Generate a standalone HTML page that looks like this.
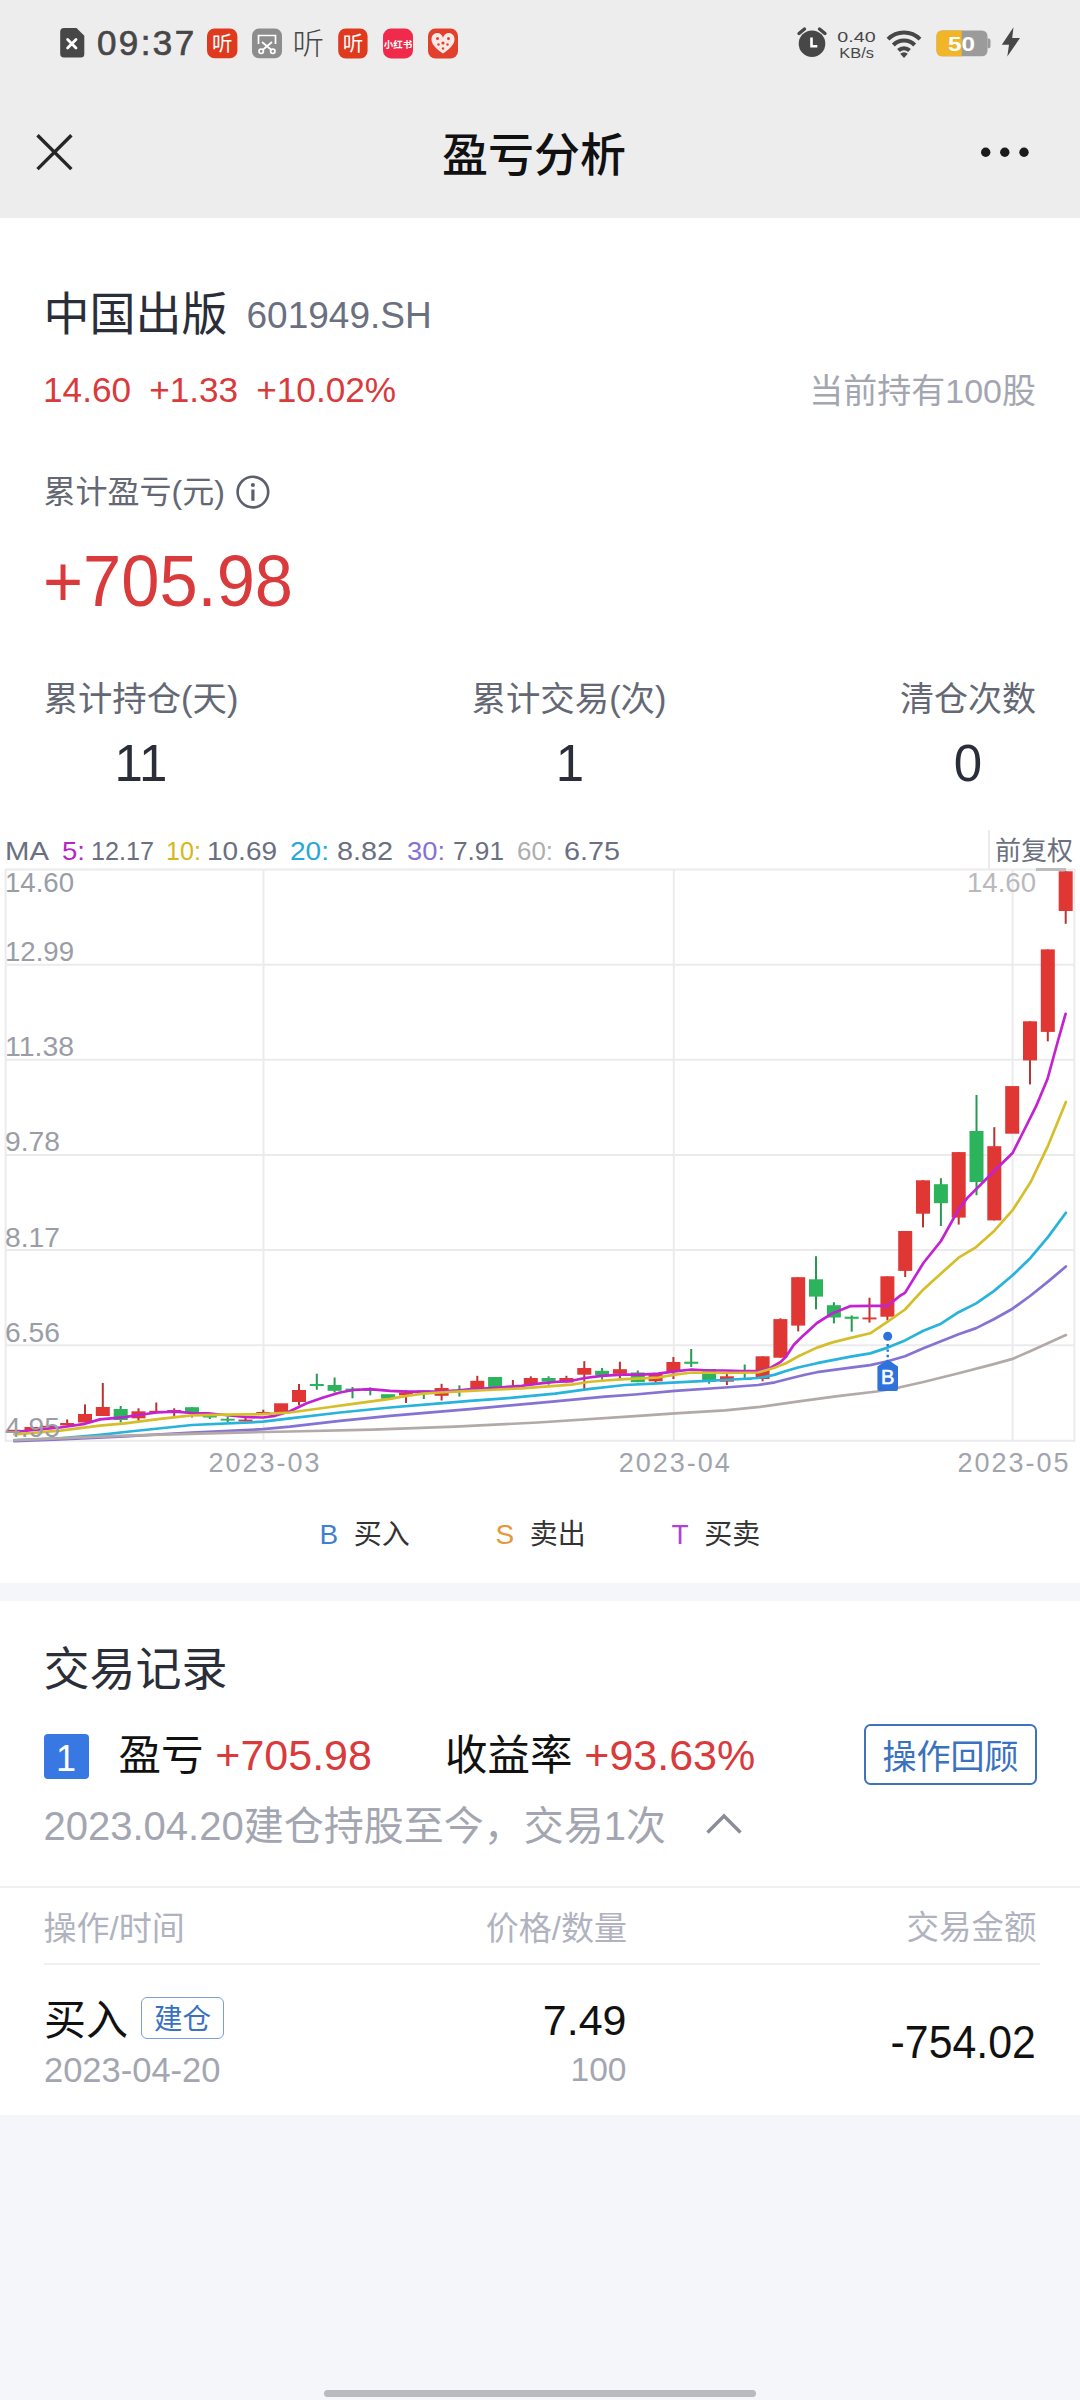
<!DOCTYPE html>
<html lang="zh-CN">
<head>
<meta charset="utf-8">
<title>盈亏分析</title>
<style>
html,body{margin:0;padding:0;}
body{width:1080px;height:2400px;position:relative;overflow:hidden;background:#f5f6fa;
  font-family:"Liberation Sans","Noto Sans CJK SC",sans-serif;color:#2a2e38;}
.abs{position:absolute;white-space:nowrap;line-height:1;}
.r{text-align:right;}
.c{text-align:center;}
.red{color:#d93a3b;}
#hdr{position:absolute;left:0;top:0;width:1080px;height:217.5px;background:#ededed;}
#card1{position:absolute;left:0;top:217.5px;width:1080px;height:1365px;background:#fff;}
#card2{position:absolute;left:0;top:1601.4px;width:1080px;height:514px;background:#fff;}
.hline{position:absolute;height:2px;background:#eff0f3;}
</style>
</head>
<body>
<div id="hdr"></div>
<div id="card1"></div>
<div id="card2"></div>

<!-- status bar -->
<svg class="abs" id="hdricons" style="left:0;top:0;" width="1080" height="216" viewBox="0 0 1080 216" font-family="Liberation Sans, Noto Sans CJK SC, sans-serif">
<!-- sim -->
<path d="M64 28H76.5L84.3 35.8V54a3.5 3.5 0 0 1 -3.5 3.5H64a3.8 3.8 0 0 1 -3.8 -3.8V31.8A3.8 3.8 0 0 1 64 28Z" fill="#474747"/>
<path d="M67.6 39.6L76 48M76 39.6L67.6 48" stroke="#fff" stroke-width="2.8" stroke-linecap="round"/>
<!-- app icons -->
<rect x="207" y="28.6" width="30.4" height="29.6" rx="7.5" fill="#df3a1e"/>
<text x="222.2" y="50.600" font-size="20.500" fill="#fff" text-anchor="middle">听</text>
<rect x="252" y="28.6" width="30" height="29.6" rx="7" fill="#8d8d8d"/>
<g stroke="#fff" stroke-width="1.7" fill="none"><path d="M258.5 44V35.5H275.5V44"/><path d="M262 42L271.5 50M272 42L262.5 50"/><circle cx="261.2" cy="51.3" r="2.2"/><circle cx="272.8" cy="51.3" r="2.2"/></g>
<text x="292.500" y="54.300" font-size="29.500" fill="#474747" font-weight="300" textLength="31.500" lengthAdjust="spacingAndGlyphs">听</text>
<rect x="338.2" y="28.6" width="29.4" height="29.8" rx="7.5" fill="#df3a1e"/>
<text x="353" y="50.600" font-size="20.500" fill="#fff" text-anchor="middle">听</text>
<rect x="383" y="28.6" width="30" height="29.8" rx="8" fill="#f02a4a"/>
<text x="398" y="47.6" font-size="9.5" font-weight="bold" fill="#fff" text-anchor="middle">小红书</text>
<rect x="428" y="28.6" width="30" height="29.8" rx="7.5" fill="#e2402c"/>
<path d="M443 53.5C436 48.5 431.5 44.5 431.5 39.5a5.7 5.7 0 0 1 11.5 -1.5a5.7 5.7 0 0 1 11.5 1.5C454.500 44.500 450 48.500 443 53.500Z" fill="#fbe9e6"/>
<g fill="#e2402c"><circle cx="437.5" cy="38.500" r="1.5"/><circle cx="448.5" cy="38.500" r="1.5"/><circle cx="443" cy="43" r="1.6"/><circle cx="438.500" cy="44.500" r="1.2"/><circle cx="447.500" cy="44.500" r="1.2"/><circle cx="443" cy="48.500" r="1.2"/></g>
<!-- alarm -->
<circle cx="812" cy="43.700" r="13.300" fill="#474747"/>
<path d="M799 33.500L804.500 29M825 33.500L819.500 29" stroke="#474747" stroke-width="3.400" stroke-linecap="round"/>
<path d="M811.500 37.500V46.200H817.300" stroke="#fff" stroke-width="2.600" fill="none"/>
<!-- wifi -->
<g fill="none" stroke="#474747" stroke-width="4" stroke-linecap="butt">
<path d="M888 39.200A22.500 22.500 0 0 1 920 39.200"/>
<path d="M893.300 45A15 15 0 0 1 914.700 45"/>
<path d="M898.500 50.500A7.700 7.700 0 0 1 909.500 50.500"/>
</g>
<path d="M904 58L900.200 53.800A5.300 5.300 0 0 1 907.800 53.800Z" fill="#474747"/>
<!-- battery -->
<rect x="936.500" y="30.500" width="51" height="25.800" rx="5.500" fill="#9b9b9b"/>
<path d="M942 30.500H961.700V56.300H942a5.500 5.500 0 0 1 -5.500 -5.500V36a5.500 5.500 0 0 1 5.500 -5.500Z" fill="#f1b527"/>
<path d="M987.500 38.500h1.200a1.800 1.800 0 0 1 1.800 1.800v6.200a1.800 1.800 0 0 1 -1.800 1.800h-1.200Z" fill="#9b9b9b"/>
<text x="948" y="50.500" font-size="19.500" font-weight="bold" fill="#fff" textLength="27" lengthAdjust="spacingAndGlyphs">50</text>
<text x="837.300" y="41.900" font-size="15" fill="#474747" textLength="38.300" lengthAdjust="spacingAndGlyphs">0.40</text>
<text x="839.300" y="57.700" font-size="15.500" fill="#474747" textLength="34.600" lengthAdjust="spacingAndGlyphs">KB/s</text>
<!-- bolt -->
<path d="M1013.500 27.300L1001.800 44.800H1009L1007.300 56.400L1020 38H1012.200Z" fill="#474747"/>
<!-- nav -->
<path d="M37.500 135.300L71.400 169.100M71.400 135.300L37.500 169.100" stroke="#262626" stroke-width="3.400" fill="none"/>
<circle cx="985.700" cy="152.300" r="4.700" fill="#1b1b1b"/><circle cx="1004.800" cy="152.300" r="4.700" fill="#1b1b1b"/><circle cx="1024" cy="152.300" r="4.700" fill="#1b1b1b"/>
</svg>
<div class="abs" id="time" style="left:97px;top:25px;font-size:35px;color:#474747;letter-spacing:2.4px;-webkit-text-stroke:0.7px #474747;">09:37</div>

<!-- nav -->
<div class="abs c" id="title" style="left:334px;width:400px;top:132px;font-size:46px;font-weight:500;color:#111;">盈亏分析</div>

<!-- stock -->
<div class="abs" id="sname" style="left:43.5px;top:290.5px;font-size:46px;color:#2a2e38;">中国出版</div>
<div class="abs" id="scode" style="left:246.5px;top:297px;font-size:37px;color:#6a7080;">601949.SH</div>
<div class="abs red" id="sprice" style="left:43px;top:372px;font-size:35.2px;word-spacing:8.3px;">14.60 +1.33 +10.02%</div>
<div class="abs r" id="shold" style="right:44px;top:374px;font-size:34px;color:#a3a6b0;">当前持有100股</div>

<div class="abs" id="plabel" style="left:43.5px;top:476px;font-size:32px;color:#646874;">累计盈亏(元)</div>
<div class="abs red" id="pval" style="left:43px;top:544px;font-size:73px;transform:scaleX(0.94);transform-origin:left center;">+705.98</div>

<div class="abs" id="l1" style="left:43.5px;top:682px;font-size:34.4px;color:#646874;">累计持仓(天)</div>
<div class="abs c" id="l2" style="left:389px;width:360px;top:682px;font-size:34.4px;color:#646874;">累计交易(次)</div>
<div class="abs r" id="l3" style="right:44px;top:682px;font-size:34px;color:#646874;">清仓次数</div>
<div class="abs c" id="v1" style="left:42px;width:198px;top:738px;font-size:51px;">11</div>
<div class="abs c" id="v2" style="left:390px;width:360px;top:738px;font-size:51px;">1</div>
<div class="abs c" id="v3" style="left:900px;width:136px;top:738px;font-size:51px;">0</div>

<!-- chart placeholder -->
<svg id="chart" class="abs" style="left:0;top:820px;" width="1080" height="680" viewBox="0 820 1080 680" font-family="Liberation Sans, Noto Sans CJK SC, sans-serif">
<g stroke="#ebebee" stroke-width="2" fill="none">
<path d="M5 869.6H1075"/>
<path d="M5 964.7H1075"/>
<path d="M5 1059.8H1075"/>
<path d="M5 1154.9H1075"/>
<path d="M5 1250.1H1075"/>
<path d="M5 1345.3H1075"/>
<path d="M5 1440.7H1075"/>
<path d="M263.5 869V1441"/>
<path d="M673.8 869V1441"/>
<path d="M1012.6 869V1441"/>
<path d="M5.6 869V1441M1074.4 869V1441M989 830V870"/>
</g>
<rect x="1036" y="868" width="30" height="3" fill="#bcbcbc"/>
<g font-size="26.5">
<text x="5" y="860" textLength="44" lengthAdjust="spacingAndGlyphs" fill="#6a7080">MA</text>
<text x="62" y="860" textLength="23" lengthAdjust="spacingAndGlyphs" fill="#b824c8">5:</text><text x="91" y="860" textLength="63" lengthAdjust="spacingAndGlyphs" fill="#6a7080">12.17</text>
<text x="166" y="860" textLength="35" lengthAdjust="spacingAndGlyphs" fill="#d4b820">10:</text><text x="207" y="860" textLength="70" lengthAdjust="spacingAndGlyphs" fill="#6a7080">10.69</text>
<text x="290" y="860" textLength="39" lengthAdjust="spacingAndGlyphs" fill="#27a8d8">20:</text><text x="337" y="860" textLength="56" lengthAdjust="spacingAndGlyphs" fill="#6a7080">8.82</text>
<text x="407" y="860" textLength="38" lengthAdjust="spacingAndGlyphs" fill="#8672d2">30:</text><text x="453" y="860" textLength="51" lengthAdjust="spacingAndGlyphs" fill="#6a7080">7.91</text>
<text x="517" y="860" textLength="36" lengthAdjust="spacingAndGlyphs" fill="#aeaeae">60:</text><text x="564" y="860" textLength="56" lengthAdjust="spacingAndGlyphs" fill="#6a7080">6.75</text>
<text x="995" y="860" fill="#6a7080" font-size="26">前复权</text>
</g>
<rect x="6.7" y="1429.8" width="14" height="1.8" fill="#e03634"/>
<rect x="24.5" y="1427" width="14" height="3.0" fill="#e03634"/>
<rect x="42.4" y="1425.8" width="14" height="1.8" fill="#e03634"/>
<rect x="66.2" y="1419.4" width="2" height="6.0" fill="#b93331"/>
<rect x="60.2" y="1423" width="14" height="2.4" fill="#e03634"/>
<rect x="84.0" y="1404.4" width="2" height="18.1" fill="#b93331"/>
<rect x="78.0" y="1414" width="14" height="8.5" fill="#e03634"/>
<rect x="101.8" y="1383" width="2" height="33.0" fill="#b93331"/>
<rect x="95.8" y="1407" width="14" height="9.0" fill="#e03634"/>
<rect x="119.7" y="1406" width="2" height="16.5" fill="#279a50"/>
<rect x="113.7" y="1409" width="14" height="11.0" fill="#2bb45c"/>
<rect x="137.5" y="1408.3" width="2" height="12.5" fill="#b93331"/>
<rect x="131.5" y="1411.3" width="14" height="7.0" fill="#e03634"/>
<rect x="155.3" y="1402.5" width="2" height="10.1" fill="#b93331"/>
<rect x="149.3" y="1410.8" width="14" height="1.8" fill="#e03634"/>
<rect x="173.2" y="1408.3" width="2" height="8.4" fill="#b93331"/>
<rect x="167.2" y="1410" width="14" height="2.5" fill="#e03634"/>
<rect x="191.0" y="1407.2" width="2" height="10.3" fill="#279a50"/>
<rect x="185.0" y="1407.2" width="14" height="6.1" fill="#2bb45c"/>
<rect x="208.8" y="1414" width="2" height="5.0" fill="#279a50"/>
<rect x="202.8" y="1415.5" width="14" height="2.0" fill="#2bb45c"/>
<rect x="226.7" y="1416.7" width="2" height="5.3" fill="#279a50"/>
<rect x="220.7" y="1418.8" width="14" height="1.8" fill="#2bb45c"/>
<rect x="244.5" y="1417.5" width="2" height="3.9" fill="#b93331"/>
<rect x="238.5" y="1419.6" width="14" height="1.8" fill="#e03634"/>
<rect x="262.3" y="1409.7" width="2" height="4.8" fill="#b93331"/>
<rect x="256.3" y="1412" width="14" height="2.5" fill="#e03634"/>
<rect x="274.1" y="1403.3" width="14" height="9.2" fill="#e03634"/>
<rect x="298.0" y="1384" width="2" height="21.3" fill="#b93331"/>
<rect x="292.0" y="1390" width="14" height="12.0" fill="#e03634"/>
<rect x="315.8" y="1373.7" width="2" height="16.0" fill="#279a50"/>
<rect x="309.8" y="1384" width="14" height="2.0" fill="#2bb45c"/>
<rect x="333.6" y="1377.5" width="2" height="15.0" fill="#279a50"/>
<rect x="327.6" y="1385" width="14" height="5.8" fill="#2bb45c"/>
<rect x="351.5" y="1387" width="2" height="11.3" fill="#279a50"/>
<rect x="345.5" y="1388.6" width="14" height="1.8" fill="#2bb45c"/>
<rect x="369.3" y="1387.5" width="2" height="7.8" fill="#279a50"/>
<rect x="363.3" y="1389.2" width="14" height="1.8" fill="#2bb45c"/>
<rect x="381.1" y="1394.2" width="14" height="4.5" fill="#2bb45c"/>
<rect x="405.0" y="1390" width="2" height="13.0" fill="#b93331"/>
<rect x="399.0" y="1392.5" width="14" height="2.8" fill="#e03634"/>
<rect x="422.8" y="1390.3" width="2" height="8.7" fill="#279a50"/>
<rect x="416.8" y="1390.3" width="14" height="2.2" fill="#2bb45c"/>
<rect x="440.6" y="1383.8" width="2" height="16.7" fill="#b93331"/>
<rect x="434.6" y="1388" width="14" height="7.8" fill="#e03634"/>
<rect x="458.4" y="1385.3" width="2" height="11.2" fill="#279a50"/>
<rect x="452.4" y="1389.5" width="14" height="2.0" fill="#2bb45c"/>
<rect x="476.3" y="1375.8" width="2" height="12.9" fill="#b93331"/>
<rect x="470.3" y="1380.8" width="14" height="7.9" fill="#e03634"/>
<rect x="488.1" y="1377" width="14" height="10.0" fill="#2bb45c"/>
<rect x="511.9" y="1380" width="2" height="7.6" fill="#b93331"/>
<rect x="505.9" y="1385.8" width="14" height="1.8" fill="#e03634"/>
<rect x="529.8" y="1376.3" width="2" height="7.9" fill="#b93331"/>
<rect x="523.8" y="1378" width="14" height="6.2" fill="#e03634"/>
<rect x="547.6" y="1376.3" width="2" height="8.4" fill="#279a50"/>
<rect x="541.6" y="1378" width="14" height="3.7" fill="#2bb45c"/>
<rect x="565.4" y="1375.8" width="2" height="6.7" fill="#b93331"/>
<rect x="559.4" y="1378" width="14" height="4.5" fill="#e03634"/>
<rect x="583.3" y="1361.2" width="2" height="28.0" fill="#b93331"/>
<rect x="577.3" y="1368" width="14" height="6.7" fill="#e03634"/>
<rect x="601.1" y="1368" width="2" height="11.7" fill="#279a50"/>
<rect x="595.1" y="1370.8" width="14" height="4.2" fill="#2bb45c"/>
<rect x="618.9" y="1361.7" width="2" height="17.0" fill="#b93331"/>
<rect x="612.9" y="1369.2" width="14" height="4.6" fill="#e03634"/>
<rect x="636.8" y="1370.5" width="2" height="11.7" fill="#279a50"/>
<rect x="630.8" y="1372.5" width="14" height="9.7" fill="#2bb45c"/>
<rect x="654.6" y="1374" width="2" height="8.5" fill="#b93331"/>
<rect x="648.6" y="1374" width="14" height="7.3" fill="#e03634"/>
<rect x="672.4" y="1357" width="2" height="22.0" fill="#b93331"/>
<rect x="666.4" y="1362" width="14" height="9.7" fill="#e03634"/>
<rect x="690.2" y="1349" width="2" height="18.0" fill="#279a50"/>
<rect x="684.2" y="1361.7" width="14" height="2.1" fill="#2bb45c"/>
<rect x="708.1" y="1369" width="2" height="14.7" fill="#279a50"/>
<rect x="702.1" y="1369" width="14" height="12.7" fill="#2bb45c"/>
<rect x="725.9" y="1374" width="2" height="11.0" fill="#b93331"/>
<rect x="719.9" y="1376.3" width="14" height="5.4" fill="#e03634"/>
<rect x="743.7" y="1364.5" width="2" height="15.5" fill="#279a50"/>
<rect x="737.7" y="1378" width="14" height="2.0" fill="#2bb45c"/>
<rect x="761.6" y="1356.3" width="2" height="25.0" fill="#b93331"/>
<rect x="755.6" y="1356.3" width="14" height="22.7" fill="#e03634"/>
<rect x="779.4" y="1318.3" width="2" height="39.4" fill="#b93331"/>
<rect x="773.4" y="1319.1" width="14" height="38.6" fill="#e03634"/>
<rect x="797.2" y="1277.2" width="2" height="54.2" fill="#b93331"/>
<rect x="791.2" y="1277.2" width="14" height="48.4" fill="#e03634"/>
<rect x="815.0" y="1256.2" width="2" height="53.2" fill="#279a50"/>
<rect x="809.0" y="1279.3" width="14" height="17.3" fill="#2bb45c"/>
<rect x="832.9" y="1302.2" width="2" height="21.2" fill="#279a50"/>
<rect x="826.9" y="1305.2" width="14" height="12.3" fill="#2bb45c"/>
<rect x="850.7" y="1315.4" width="2" height="16.3" fill="#279a50"/>
<rect x="844.7" y="1316.7" width="14" height="2.1" fill="#2bb45c"/>
<rect x="868.5" y="1297.7" width="2" height="24.9" fill="#b93331"/>
<rect x="862.5" y="1317.5" width="14" height="1.9" fill="#e03634"/>
<rect x="886.4" y="1276.3" width="2" height="44.1" fill="#b93331"/>
<rect x="880.4" y="1276.3" width="14" height="40.4" fill="#e03634"/>
<rect x="904.2" y="1231" width="2" height="46.0" fill="#b93331"/>
<rect x="898.2" y="1231" width="14" height="39.9" fill="#e03634"/>
<rect x="922.0" y="1180.3" width="2" height="47.1" fill="#b93331"/>
<rect x="916.0" y="1180.3" width="14" height="33.4" fill="#e03634"/>
<rect x="939.9" y="1178.2" width="2" height="47.8" fill="#279a50"/>
<rect x="933.9" y="1184.2" width="14" height="19.0" fill="#2bb45c"/>
<rect x="957.7" y="1152.1" width="2" height="72.5" fill="#b93331"/>
<rect x="951.7" y="1152.1" width="14" height="65.5" fill="#e03634"/>
<rect x="975.5" y="1095" width="2" height="100.2" fill="#279a50"/>
<rect x="969.5" y="1131" width="14" height="51.0" fill="#2bb45c"/>
<rect x="993.3" y="1127.2" width="2" height="93.2" fill="#b93331"/>
<rect x="987.3" y="1146.2" width="14" height="74.2" fill="#e03634"/>
<rect x="1005.2" y="1086.1" width="14" height="47.6" fill="#e03634"/>
<rect x="1029.0" y="1021.3" width="2" height="63.1" fill="#b93331"/>
<rect x="1023.0" y="1021.3" width="14" height="39.1" fill="#e03634"/>
<rect x="1046.8" y="949.4" width="2" height="91.9" fill="#b93331"/>
<rect x="1040.8" y="949.4" width="14" height="82.5" fill="#e03634"/>
<rect x="1064.7" y="871.3" width="2" height="52.5" fill="#b93331"/>
<rect x="1058.7" y="871.3" width="14" height="39.7" fill="#e03634"/>
<path d="M14.4 1432.0 L60.0 1427.5 L85.0 1423.8 L100.0 1419.4 L125.0 1417.2 L138.0 1415.0 L157.0 1412.5 L175.0 1411.7 L192.0 1413.0 L208.0 1413.3 L225.0 1415.0 L245.0 1417.0 L263.0 1417.5 L275.0 1415.8 L290.0 1411.3 L306.7 1403.3 L323.3 1397.5 L340.0 1392.5 L353.3 1390.0 L370.0 1389.2 L390.0 1390.8 L406.7 1391.7 L423.3 1391.7 L440.0 1391.3 L456.7 1390.5 L471.7 1389.2 L488.3 1388.3 L505.0 1387.2 L521.7 1385.8 L538.3 1383.7 L555.0 1382.0 L571.7 1380.8 L585.0 1378.0 L601.7 1375.8 L621.7 1374.7 L641.7 1374.7 L658.3 1373.7 L675.0 1371.3 L691.7 1369.5 L708.3 1370.5 L725.0 1370.5 L741.7 1371.2 L758.3 1371.2 L770.4 1368.0 L780.7 1361.9 L785.9 1356.7 L793.7 1345.0 L802.8 1335.9 L817.0 1323.0 L832.6 1313.2 L850.7 1306.1 L870.2 1305.9 L887.7 1305.9 L900.0 1295.7 L905.0 1292.9 L923.4 1263.0 L941.0 1241.0 L958.6 1209.3 L967.4 1197.9 L985.0 1180.3 L1002.6 1162.7 L1012.6 1153.0 L1023.7 1131.0 L1036.0 1106.4 L1047.5 1079.0 L1057.5 1042.5 L1065.6 1013.8" fill="none" stroke="#c222d2" stroke-width="2.7" stroke-linejoin="round" stroke-linecap="round"/>
<path d="M14.4 1434.4 L60.0 1430.6 L100.0 1425.6 L125.0 1423.3 L158.0 1419.2 L192.0 1415.3 L225.0 1414.7 L263.0 1414.2 L290.0 1412.5 L323.0 1408.0 L356.7 1403.3 L390.0 1398.8 L406.7 1395.8 L423.0 1393.7 L440.0 1392.5 L470.0 1390.8 L488.0 1390.0 L521.7 1388.3 L555.0 1385.8 L571.7 1384.7 L588.0 1382.0 L605.0 1380.5 L625.0 1379.2 L641.7 1378.3 L658.3 1377.5 L675.0 1374.7 L691.7 1372.5 L725.0 1373.0 L758.0 1372.5 L773.0 1368.3 L785.9 1363.2 L798.9 1356.0 L817.0 1347.6 L832.6 1342.4 L850.7 1337.9 L870.2 1333.3 L887.7 1321.7 L905.0 1309.5 L923.4 1289.4 L941.0 1273.5 L958.6 1257.7 L976.2 1247.1 L993.8 1231.3 L1012.6 1210.2 L1030.7 1182.0 L1048.3 1145.1 L1065.9 1102.0" fill="none" stroke="#d6be2a" stroke-width="2.7" stroke-linejoin="round" stroke-linecap="round"/>
<path d="M14.4 1440.4 L60.0 1438.4 L100.0 1434.8 L125.0 1432.0 L192.0 1425.0 L263.0 1421.7 L290.0 1418.3 L340.0 1412.5 L390.0 1407.5 L440.0 1403.3 L470.0 1400.8 L505.0 1398.3 L555.0 1393.7 L588.0 1389.2 L625.0 1385.0 L658.0 1383.3 L691.7 1381.7 L725.0 1380.0 L758.0 1378.0 L766.0 1376.6 L775.0 1374.6 L785.9 1371.0 L798.0 1367.5 L817.0 1363.2 L850.7 1356.7 L870.2 1353.4 L887.7 1347.6 L905.0 1340.4 L923.4 1330.7 L941.0 1323.7 L958.6 1312.2 L976.2 1303.4 L993.8 1291.1 L1012.6 1275.3 L1030.7 1257.7 L1048.3 1236.6 L1065.9 1212.8" fill="none" stroke="#27b3dc" stroke-width="2.7" stroke-linejoin="round" stroke-linecap="round"/>
<path d="M14.4 1441.2 L60.0 1439.3 L125.0 1436.3 L192.0 1432.5 L263.0 1429.2 L290.0 1426.7 L340.0 1420.8 L390.0 1415.8 L440.0 1411.7 L470.0 1409.2 L505.0 1405.8 L555.0 1401.3 L605.0 1396.7 L635.0 1394.5 L675.0 1390.8 L725.0 1387.5 L758.0 1385.0 L775.0 1382.3 L791.7 1378.0 L805.0 1374.7 L817.0 1372.2 L850.7 1367.7 L870.2 1365.1 L887.7 1361.2 L905.0 1356.2 L923.4 1348.3 L941.0 1341.3 L958.6 1334.2 L976.2 1328.1 L993.8 1319.3 L1012.6 1308.7 L1030.7 1295.5 L1048.3 1281.4 L1065.9 1266.5" fill="none" stroke="#8672d2" stroke-width="2.7" stroke-linejoin="round" stroke-linecap="round"/>
<path d="M14.4 1440.2 L125.0 1435.6 L263.0 1432.0 L290.0 1431.5 L373.0 1429.7 L455.0 1426.7 L538.0 1422.5 L635.0 1416.2 L675.0 1413.3 L725.0 1410.3 L760.0 1406.8 L798.9 1401.4 L837.8 1396.2 L876.7 1391.5 L900.0 1387.3 L923.4 1382.0 L958.6 1373.3 L993.8 1364.1 L1012.6 1358.9 L1030.7 1350.9 L1048.3 1343.0 L1065.9 1335.1" fill="none" stroke="#b3aaa7" stroke-width="2.7" stroke-linejoin="round" stroke-linecap="round"/>
<g font-size="27" fill="#9a9da6">
<text x="5" y="892.0" textLength="69" lengthAdjust="spacingAndGlyphs">14.60</text>
<text x="5" y="961.2" textLength="69" lengthAdjust="spacingAndGlyphs">12.99</text>
<text x="5" y="1056.3" textLength="69" lengthAdjust="spacingAndGlyphs">11.38</text>
<text x="5" y="1151.4" textLength="55" lengthAdjust="spacingAndGlyphs">9.78</text>
<text x="5" y="1246.6" textLength="55" lengthAdjust="spacingAndGlyphs">8.17</text>
<text x="5" y="1341.8" textLength="55" lengthAdjust="spacingAndGlyphs">6.56</text>
<text x="5" y="1437.2" textLength="55" lengthAdjust="spacingAndGlyphs">4.95</text>
<text x="967" y="892" fill="#b9b9bd" textLength="69" lengthAdjust="spacingAndGlyphs">14.60</text>
</g>
<circle cx="887.7" cy="1336.2" r="4.5" fill="#2f72dc"/>
<path d="M887.7 1344V1361" stroke="#2f72dc" stroke-width="2.4" stroke-dasharray="2.4 3" fill="none"/>
<path d="M887.7 1359.5L898 1366.5V1389a2 2 0 0 1 -2 2H879.4a2 2 0 0 1 -2 -2V1366.5Z" fill="#2f72dc"/>
<text x="881" y="1384" font-size="19.5" fill="#fff" stroke="#fff" stroke-width="0.55" textLength="13.4" lengthAdjust="spacingAndGlyphs">B</text>
<g font-size="27" fill="#a1a4ac" text-anchor="middle" letter-spacing="2">
<text x="265.0" y="1472">2023-03</text>
<text x="675.3" y="1472">2023-04</text>
<text x="1014.1" y="1472">2023-05</text>
</g>
</svg>

<!-- legend -->
<div class="abs" id="lgB" style="left:319.500px;top:1521px;font-size:28px;color:#333;"><span style="color:#3f7fd0;">B</span>&nbsp; 买入</div>
<div class="abs" id="lgS" style="left:495.500px;top:1521px;font-size:28px;color:#333;"><span style="color:#e8963a;">S</span>&nbsp; 卖出</div>
<div class="abs" id="lgT" style="left:671.500px;top:1521px;font-size:28px;color:#333;"><span style="color:#b040d8;">T</span>&nbsp; 买卖</div>

<svg class="abs" style="left:230px;top:470px;" width="46" height="46" viewBox="230 470 46 46"><circle cx="252.900" cy="492.100" r="15.300" fill="none" stroke="#5c606c" stroke-width="2.600"/><circle cx="252.900" cy="485" r="2.100" fill="#5c606c"/><path d="M252.900 489.500V500.800" stroke="#5c606c" stroke-width="3.200"/></svg>
<svg class="abs" style="left:700px;top:1808px;" width="50" height="32" viewBox="700 1808 50 32"><path d="M707.500 1832.500L724 1816L740.500 1832.500" fill="none" stroke="#8a8d98" stroke-width="3.400"/></svg>
<!-- records -->
<div class="abs" id="rtitle" style="left:43.5px;top:1646px;font-size:46px;">交易记录</div>
<div class="abs c" id="badge" style="left:43.5px;top:1734px;width:45px;height:44.500px;background:#3878e2;border-radius:4px;color:#fff;font-size:36px;line-height:49px;">1</div>
<div class="abs" id="r1" style="left:118.5px;top:1734.3px;font-size:42.5px;color:#111;">盈亏 <span class="red" style="font-size:43px;">+705.98</span></div>
<div class="abs" id="r2" style="left:445px;top:1734.3px;font-size:42.5px;color:#111;">收益率 <span class="red" style="font-size:43px;">+93.63%</span></div>
<div class="abs c" id="btn" style="left:864px;top:1724px;width:168.800px;height:56.600px;border:2px solid #3f74bc;border-radius:6.500px;color:#3a72c0;font-size:34px;line-height:63px;">操作回顾</div>
<div class="abs" id="r3" style="left:43.5px;top:1806px;font-size:40px;color:#a3a6b0;">2023.04.20建仓持股至今，交易1次</div>

<div class="hline" style="left:0;top:1886px;width:1080px;"></div>
<div class="abs" id="th1" style="left:43.5px;top:1912px;font-size:33px;color:#b0b3bf;">操作/时间</div>
<div class="abs r" id="th2" style="right:453px;top:1912px;font-size:33px;color:#b0b3bf;">价格/数量</div>
<div class="abs r" id="th3" style="right:43.5px;top:1912px;font-size:32.5px;color:#b0b3bf;">交易金额</div>
<div class="hline" style="left:44px;top:1962.5px;width:996px;"></div>

<div class="abs" id="t1" style="left:44px;top:2000px;font-size:42px;color:#111;">买入</div>
<div class="abs c" id="tag" style="left:141.300px;top:1997.200px;width:80.600px;height:39.800px;border:1.500px solid #7a9fd8;border-radius:6px;color:#3a72c0;font-size:28.500px;line-height:42.600px;">建仓</div>
<div class="abs" id="t2" style="left:44px;top:2052.500px;font-size:34.5px;color:#a3a6b0;">2023-04-20</div>
<div class="abs r" id="t3" style="right:453.500px;top:1999px;font-size:43px;color:#111;">7.49</div>
<div class="abs r" id="t4" style="right:453.500px;top:2053px;font-size:33.5px;color:#a3a6b0;">100</div>
<div class="abs r" id="t5" style="right:44px;top:2019px;font-size:46.5px;color:#111;transform:scaleX(0.92);transform-origin:right center;">-754.02</div>

<div class="abs" id="homebar" style="left:324px;top:2390px;width:432px;height:7px;border-radius:4px;background:#b9babf;"></div>
</body>
</html>
